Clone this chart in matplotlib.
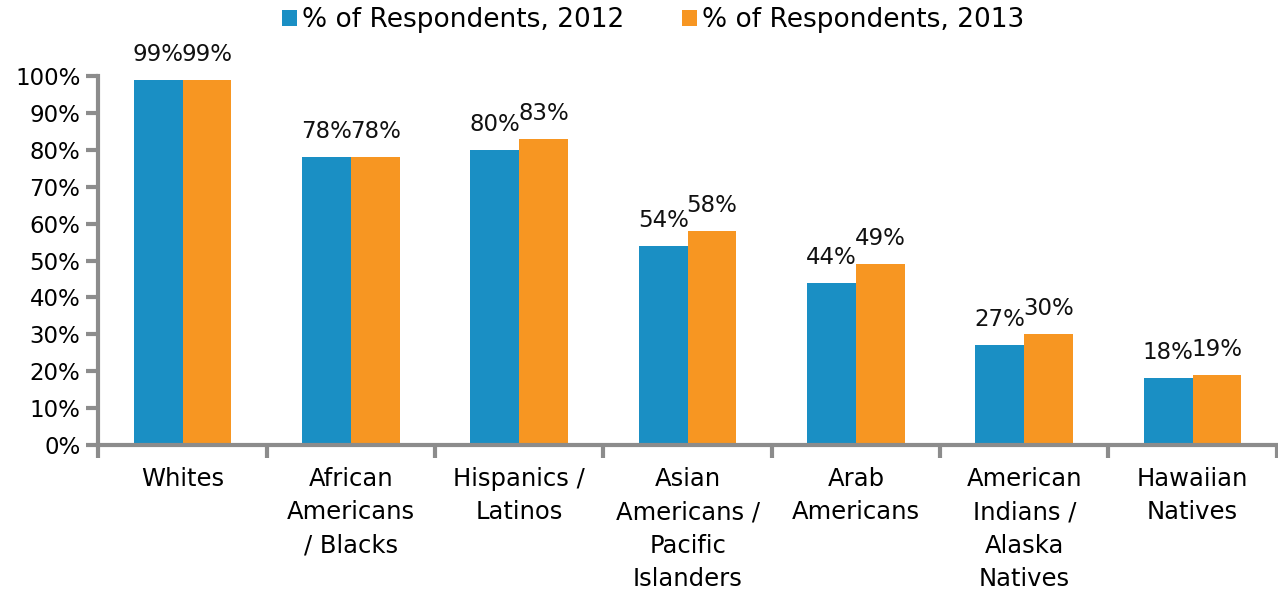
import matplotlib.pyplot as plt
import numpy as np

categories = [
    "Whites",
    "African\nAmericans\n/ Blacks",
    "Hispanics /\nLatinos",
    "Asian\nAmericans /\nPacific\nIslanders",
    "Arab\nAmericans",
    "American\nIndians /\nAlaska\nNatives",
    "Hawaiian\nNatives",
]
pct_2012 = [99, 78, 80, 54, 44, 27, 18]
pct_2013 = [99, 78, 83, 58, 49, 30, 19]
series_names = ["% of Respondents, 2012", "% of Respondents, 2013"]

blue = "#1a8fc4"
orange = "#f79622"
axis_grey = "#8c8c8c"

plt.rcParams["font.family"] = ["DejaVu Sans"]
fig = plt.figure(figsize=(12.78, 5.97), dpi=100)
ax = fig.add_axes([0.077, 0.255, 0.922, 0.617])

x = np.arange(len(categories))
w = 0.29
b1 = ax.bar(x - w / 2, pct_2012, w, color=blue, label=series_names[0])
b2 = ax.bar(x + w / 2, pct_2013, w, color=orange, label=series_names[1])

for bars, vals in ((b1, pct_2012), (b2, pct_2013)):
    for rect, v in zip(bars, vals):
        ax.text(rect.get_x() + rect.get_width() / 2, v + 3.8, f"{v}%",
                ha="center", va="bottom", fontsize=16.5, color="#111111")

ax.set_xlim(-0.5, len(categories) - 0.5)
ax.set_ylim(0, 100)
ax.set_yticks(np.arange(0, 101, 10))
ax.set_yticklabels([f"{t}%" for t in range(0, 101, 10)], fontsize=16.5)
ax.set_xticks(x)
ax.set_xticklabels(categories, fontsize=17.5, linespacing=1.5)
ax.tick_params(axis="x", length=0, pad=16)
ax.set_xticks(np.arange(-0.5, len(categories), 1), minor=True)
ax.tick_params(axis="x", which="minor", length=9, width=3, color=axis_grey, direction="out")
ax.tick_params(axis="y", length=9, width=3, color=axis_grey, pad=4)

for side in ("top", "right"):
    ax.spines[side].set_visible(False)
for side in ("left", "bottom"):
    ax.spines[side].set_color(axis_grey)
    ax.spines[side].set_linewidth(3)

fig.legend(loc="upper center", bbox_to_anchor=(0.511, 1.028), ncol=2, frameon=False,
           fontsize=19, handlelength=0.55, handleheight=0.55, handletextpad=0.2,
           columnspacing=2.2)

fig.savefig("out.png", dpi=100)
